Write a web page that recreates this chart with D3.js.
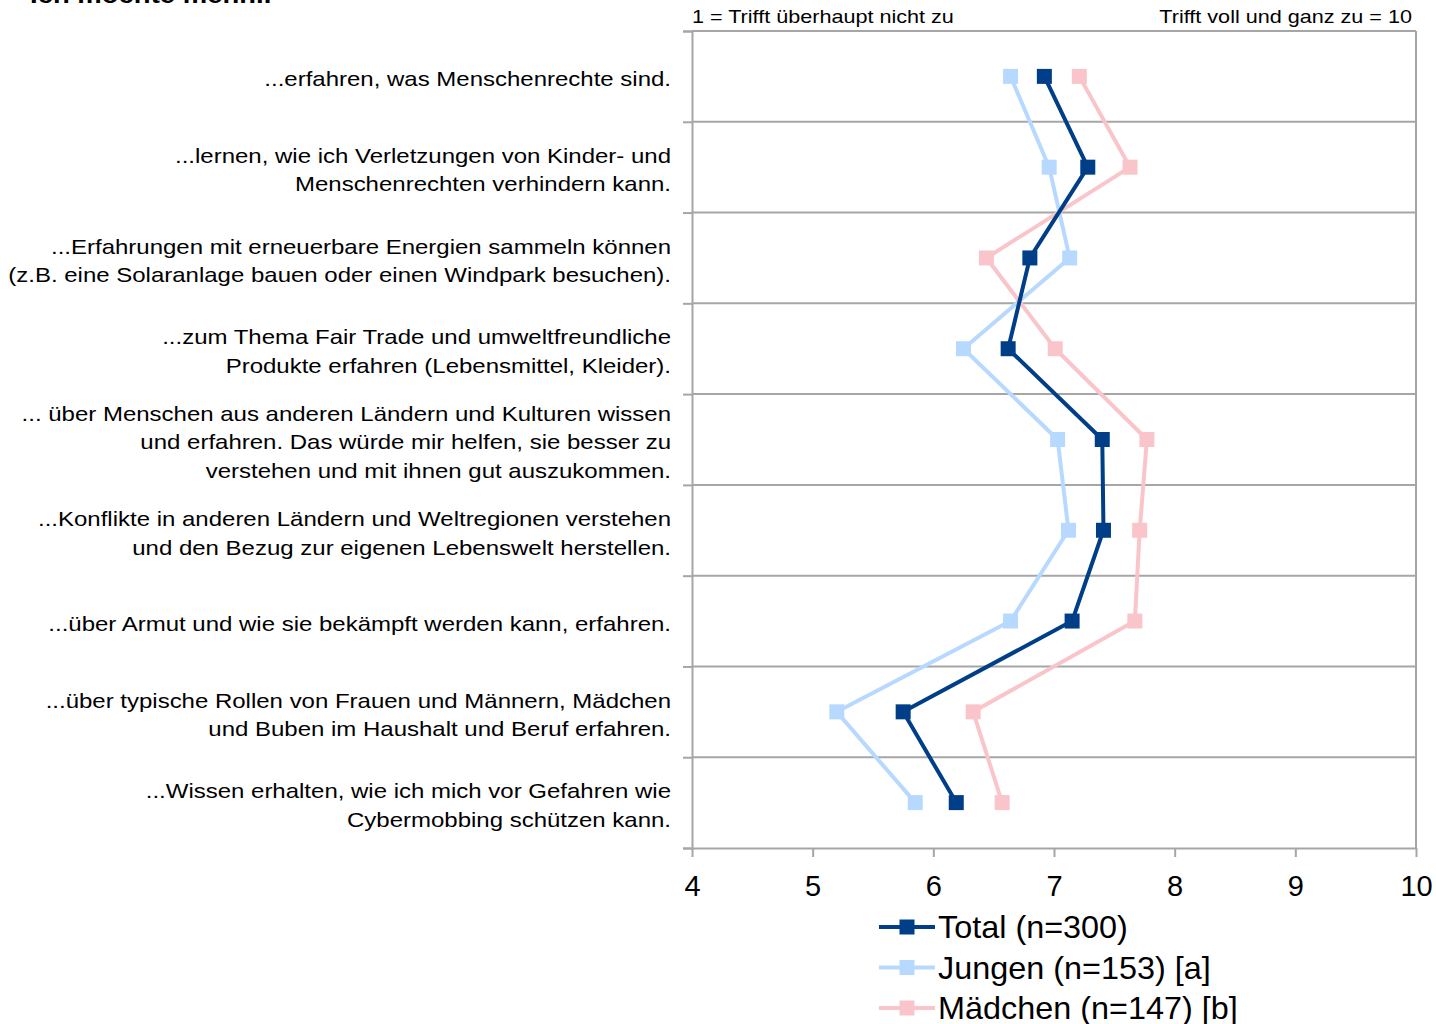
<!DOCTYPE html>
<html>
<head>
<meta charset="utf-8">
<script src="https://cdn.jsdelivr.net/npm/d3@7"></script>
<style>
  html, body { margin: 0; padding: 0; background: #fff; }
  svg { display: block; font-family: "Liberation Sans", Arial, sans-serif; }
</style>
</head>
<body>
<svg id="chart" width="1436" height="1024"></svg>
<script>
// Statements (each entry is the lines of one label)
const categories = [
  ["...erfahren, was Menschenrechte sind."],
  ["...lernen, wie ich Verletzungen von Kinder- und", "Menschenrechten verhindern kann."],
  ["...Erfahrungen mit erneuerbare Energien sammeln können", "(z.B. eine Solaranlage bauen oder einen Windpark besuchen)."],
  ["...zum Thema Fair Trade und umweltfreundliche", "Produkte erfahren (Lebensmittel, Kleider)."],
  ["... über Menschen aus anderen Ländern und Kulturen wissen", "und erfahren. Das würde mir helfen, sie besser zu", "verstehen und mit ihnen gut auszukommen."],
  ["...Konflikte in anderen Ländern und Weltregionen verstehen", "und den Bezug zur eigenen Lebenswelt herstellen."],
  ["...über Armut und wie sie bekämpft werden kann, erfahren."],
  ["...über typische Rollen von Frauen und Männern, Mädchen", "und Buben im Haushalt und Beruf erfahren."],
  ["...Wissen erhalten, wie ich mich vor Gefahren wie", "Cybermobbing schützen kann."]
];

// Mean agreement per statement
const totalValues    = [6.92, 7.28, 6.80, 6.62, 7.40, 7.41, 7.15, 5.75, 6.19];
const jungenValues   = [6.64, 6.96, 7.13, 6.25, 7.03, 7.12, 6.64, 5.20, 5.85];
const maedchenValues = [7.21, 7.63, 6.44, 7.01, 7.77, 7.71, 7.67, 6.33, 6.57];

const seriesNames = ["Total (n=300)", "Jungen (n=153) [a]", "Mädchen (n=147) [b]"];
const seriesColors = ["#003f87", "#b8d9ff", "#f9c5cb"];
const xTicks = [4, 5, 6, 7, 8, 9, 10];
const scaleLabels = ["1 = Trifft überhaupt nicht zu", "Trifft voll und ganz zu = 10"];
const title = "Ich möchte mehr...";

const series = [
  { name: seriesNames[0], values: totalValues, color: seriesColors[0] },
  { name: seriesNames[1], values: jungenValues, color: seriesColors[1] },
  { name: seriesNames[2], values: maedchenValues, color: seriesColors[2] }
];

const svg = d3.select("#chart");
const plot = { left: 692, right: 1416, top: 31, bottom: 848 };
const gridColor = "#a6a6a6";
const stretch = 1.2; // slightly wide text rendering

const x = d3.scaleLinear().domain([4, 10]).range([plot.left, plot.right]);
const yIdx = d3.scaleLinear().domain([0, categories.length]).range([plot.top, plot.bottom]);
const y = d3.scaleBand().domain(d3.range(categories.length)).range([plot.top, plot.bottom]).padding(0);
const yc = i => y(i) + y.bandwidth() / 2;

// Text placed at (tx, ty) and widened horizontally around its anchor
function wideText(parent, tx, ty, sx) {
  return parent.append("text")
    .attr("transform", `translate(${tx},${ty}) scale(${sx},1)`)
    .attr("fill", "#000");
}

// Cut-off title at the very top
wideText(svg, 30, 3, 1.17)
  .attr("font-size", 23.5).attr("font-weight", "bold")
  .text(title);

// Horizontal grid lines between statements
svg.append("g")
  .selectAll("line")
  .data(d3.range(0, categories.length))
  .join("line")
  .attr("x1", plot.left).attr("x2", plot.right)
  .attr("y1", d => yIdx(d)).attr("y2", d => yIdx(d))
  .attr("stroke", gridColor).attr("stroke-width", 2);

// Right border
svg.append("line")
  .attr("x1", plot.right).attr("x2", plot.right)
  .attr("y1", plot.top).attr("y2", plot.bottom)
  .attr("stroke", gridColor).attr("stroke-width", 2);

// Left axis with tick marks at the category boundaries
const yAxis = svg.append("g")
  .attr("transform", `translate(${plot.left},0)`)
  .call(d3.axisLeft(yIdx).tickValues(d3.range(0, categories.length + 1)).tickSize(9).tickFormat(""));
yAxis.select(".domain").attr("stroke", gridColor).attr("stroke-width", 2);
yAxis.selectAll(".tick line").attr("stroke", gridColor).attr("stroke-width", 2);

// Bottom axis
const xAxis = svg.append("g")
  .attr("transform", `translate(0,${plot.bottom})`)
  .call(d3.axisBottom(x).tickValues(xTicks).tickSize(9).tickSizeOuter(0).tickPadding(18).tickFormat(d3.format("d")));
xAxis.select(".domain").attr("stroke", gridColor).attr("stroke-width", 2);
xAxis.selectAll(".tick line").attr("stroke", gridColor).attr("stroke-width", 2);
xAxis.selectAll(".tick text")
  .attr("font-size", 29).attr("fill", "#000")
  .attr("font-family", "Liberation Sans, Arial, sans-serif");

// Scale anchors above the plot
wideText(svg, plot.left, 23, 1.2)
  .attr("font-size", 18)
  .text(scaleLabels[0]);
wideText(svg, 1412, 23, 1.2)
  .attr("text-anchor", "end")
  .attr("font-size", 18)
  .text(scaleLabels[1]);

// Statement labels, right aligned
const lineH = 28.6;
const labels = svg.append("g").selectAll("text")
  .data(categories)
  .join("text")
  .attr("text-anchor", "end")
  .attr("font-size", 20)
  .attr("fill", "#000")
  .attr("transform", (d, i) => `translate(671,${yc(i) - (d.length - 1) * lineH / 2 + 10}) scale(${stretch},1)`);
labels.selectAll("tspan")
  .data(d => d)
  .join("tspan")
  .attr("x", 0)
  .attr("dy", (d, j) => j === 0 ? 0 : lineH)
  .text(d => d);

// Lines and square markers (light series first, total on top)
const line = d3.line().x(d => x(d.v)).y(d => yc(d.i));
const drawOrder = [series[2], series[1], series[0]];
drawOrder.forEach(s => {
  const pts = s.values.map((v, i) => ({ v, i }));
  svg.append("path")
    .datum(pts)
    .attr("fill", "none")
    .attr("stroke", s.color)
    .attr("stroke-width", 4)
    .attr("stroke-linejoin", "round")
    .attr("d", line);
  svg.append("g").selectAll("rect")
    .data(pts)
    .join("rect")
    .attr("x", d => x(d.v) - 7.5)
    .attr("y", d => yc(d.i) - 7.5)
    .attr("width", 15).attr("height", 15)
    .attr("fill", s.color);
});

// Legend
const legend = svg.append("g");
series.forEach((s, k) => {
  const ly = 927 + k * 40.5;
  legend.append("line")
    .attr("x1", 879).attr("x2", 935)
    .attr("y1", ly).attr("y2", ly)
    .attr("stroke", s.color).attr("stroke-width", 4);
  legend.append("rect")
    .attr("x", 907 - 7.5).attr("y", ly - 7.5)
    .attr("width", 15).attr("height", 15)
    .attr("fill", s.color);
  wideText(legend, 938, ly + 11, 1.045)
    .attr("font-size", 31)
    .text(s.name);
});
</script>
</body>
</html>
